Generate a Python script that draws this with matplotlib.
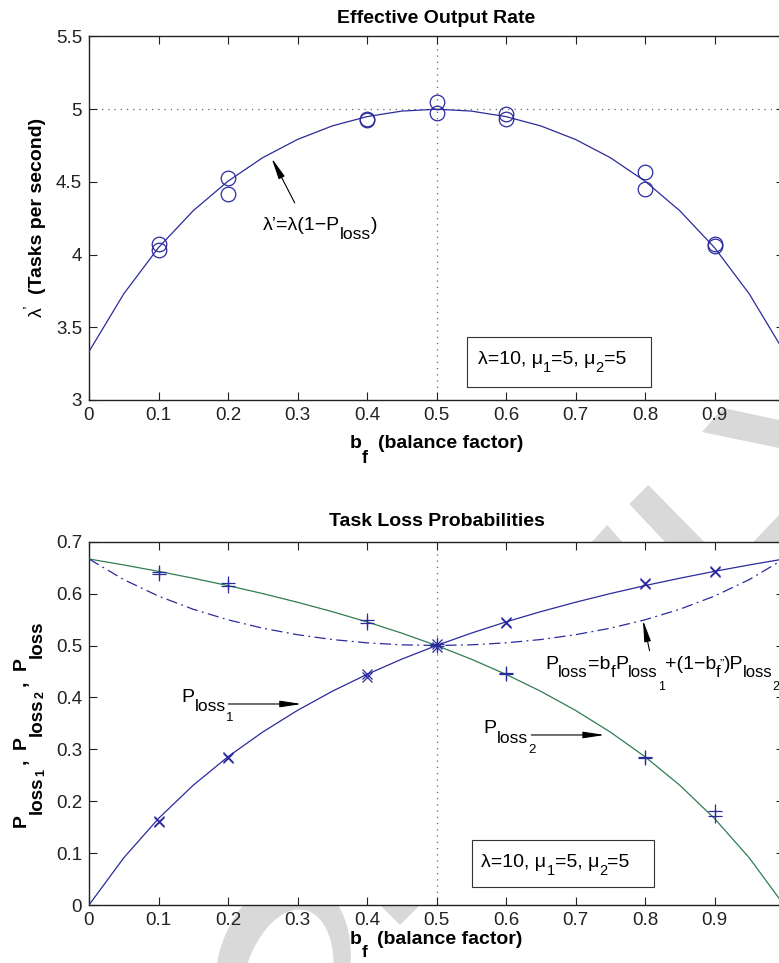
import matplotlib
matplotlib.use('Agg')
import matplotlib.pyplot as plt
from matplotlib.patches import Polygon, Ellipse, Rectangle
from matplotlib.transforms import IdentityTransform, Affine2D, offset_copy

plt.rcParams['font.family'] = ['Liberation Sans', 'DejaVu Sans']

# ---------------- data ----------------
bf_curve = [0.0, 0.05, 0.1, 0.15, 0.2, 0.25, 0.3, 0.35, 0.4, 0.45, 0.5,
            0.55, 0.6, 0.65, 0.7, 0.75, 0.8, 0.85, 0.9, 0.95, 1.0]
rate_curve = [3.333, 3.730, 4.048, 4.302, 4.505, 4.667, 4.792, 4.885, 4.949, 4.987, 5.000,
              4.987, 4.949, 4.885, 4.792, 4.667, 4.505, 4.302, 4.048, 3.730, 3.333]
ploss1_curve = [0.0, 0.0909, 0.1667, 0.2308, 0.2857, 0.3333, 0.3750, 0.4118, 0.4444, 0.4737, 0.5000,
                0.5238, 0.5455, 0.5652, 0.5833, 0.6000, 0.6154, 0.6296, 0.6429, 0.6552, 0.6667]
ploss2_curve = [0.6667, 0.6552, 0.6429, 0.6296, 0.6154, 0.6000, 0.5833, 0.5652, 0.5455, 0.5238, 0.5000,
                0.4737, 0.4444, 0.4118, 0.3750, 0.3333, 0.2857, 0.2308, 0.1667, 0.0909, 0.0]
ploss_curve = [0.6667, 0.6270, 0.5952, 0.5698, 0.5495, 0.5333, 0.5208, 0.5115, 0.5051, 0.5013, 0.5000,
               0.5013, 0.5051, 0.5115, 0.5208, 0.5333, 0.5495, 0.5698, 0.5952, 0.6270, 0.6667]

bf_sim = [0.1, 0.2, 0.4, 0.5, 0.6, 0.8, 0.9]
rate_sim_a = [4.075, 4.525, 4.930, 5.050, 4.964, 4.571, 4.075]
rate_sim_b = [4.035, 4.418, 4.925, 4.975, 4.936, 4.450, 4.060]
ploss1_sim_a = [0.161, 0.286, 0.445, 0.502, 0.546, 0.619, 0.644]
ploss1_sim_b = [0.159, 0.284, 0.440, 0.498, 0.543, 0.620, 0.641]
ploss2_sim_a = [0.641, 0.620, 0.549, 0.502, 0.447, 0.286, 0.181]
ploss2_sim_b = [0.638, 0.615, 0.543, 0.499, 0.445, 0.284, 0.171]

x_ticks = [0, 0.1, 0.2, 0.3, 0.4, 0.5, 0.6, 0.7, 0.8, 0.9, 1.0]
x_tick_labels = ['0', '0.1', '0.2', '0.3', '0.4', '0.5', '0.6', '0.7', '0.8', '0.9', '']
y1_ticks = [3, 3.5, 4, 4.5, 5, 5.5]
y1_tick_labels = ['3', '3.5', '4', '4.5', '5', '5.5']
y2_ticks = [0, 0.1, 0.2, 0.3, 0.4, 0.5, 0.6, 0.7]
y2_tick_labels = ['0', '0.1', '0.2', '0.3', '0.4', '0.5', '0.6', '0.7']

# ---------------- style ----------------
BLUE = '#2b2b9c'
GREEN = '#2f7d52'
DOT = (0, (1, 4))
ARROW = dict(arrowstyle='-|>,head_length=1.3,head_width=0.2', color='black',
             lw=0.8, shrinkA=0, shrinkB=0, mutation_scale=10)
W, H = 779, 963

fig = plt.figure(figsize=(W / 100, H / 100), dpi=100)
renderer = fig.canvas.get_renderer()
PT = 72 / fig.dpi
PX = Affine2D().scale(1, -1).translate(0, H)   # pixel coords from top-left


def _off(tr, a, dy, rotation):
    if rotation == 0:
        return offset_copy(tr, fig=fig, x=a, y=dy, units='points')
    return offset_copy(tr, fig=fig, x=-dy, y=a, units='points')


def rich(x, y, pieces, base_tr, rotation=0, align='left'):
    """pieces: (text, size, dy_points, weight) or (None, gap_points)"""
    made = []
    adv = 0.0
    for pc in pieces:
        if pc[0] is None:
            adv += pc[1]
            continue
        s, size, dy, weight = pc
        t = fig.text(x, y, s, fontsize=size, fontweight=weight, rotation=rotation,
                     rotation_mode='anchor', ha='left', va='baseline', zorder=6)
        t.set_transform(_off(base_tr, adv, dy, rotation))
        made.append((t, adv, dy))
        bb = t.get_window_extent(renderer)
        adv += (bb.width if rotation == 0 else bb.height) * PT
    shift = adv / 2 if align == 'center' else 0.0
    for t, a, dy in made:
        t.set_transform(_off(base_tr, a - shift, dy, rotation))
    return adv


# watermark pieces (figure background, behind axes)
WM = '#d9d9d9'
for pts in [
    [(702, 432), (723, 408), (779, 420), (779, 448)],
    [(591.7, 542), (607.3, 525), (622.3, 542)],
    [(629.3, 504), (648.3, 485), (704.3, 542), (665, 542)],
    [(753.3, 542), (779, 515), (779, 542)],
    [(380, 905), (420, 905), (400, 925)],
]:
    fig.patches.append(Polygon(pts, closed=True, fc=WM, ec='none', transform=PX, zorder=-5))
fig.patches.append(Ellipse((283, H - 970), 132, 186, angle=-14, fc=WM, ec='none',
                           transform=IdentityTransform(), zorder=-5))
fig.patches.append(Ellipse((287, H - 985), 88, 154, angle=-14, fc='white', ec='none',
                           transform=IdentityTransform(), zorder=-4))

ax1 = fig.add_axes([89 / W, 1 - 400 / H, 695 / W, 363.5 / H])
ax2 = fig.add_axes([89 / W, 1 - 905 / H, 695 / W, 363.3 / H])

for ax in (ax1, ax2):
    ax.set_zorder(1)
    ax.set_facecolor('white')
    ax.set_xlim(0, 1)
    ax.set_xticks(x_ticks, x_tick_labels)
    ax.tick_params(direction='in', top=True, right=True, length=6, width=0.8,
                   labelsize=13.5, pad=5, colors='#222')
    for s in ax.spines.values():
        s.set_linewidth(1.0)
        s.set_color('#222')
    ax.axvline(0.5, color='#666', ls=DOT, lw=0.9, zorder=1)

# ---------------- top plot ----------------
ax1.set_ylim(3, 5.5)
ax1.set_yticks(y1_ticks, y1_tick_labels)
ax1.axhline(5, color='#666', ls=DOT, lw=0.9, zorder=1)
ax1.plot(bf_curve, rate_curve, color=BLUE, lw=0.9, zorder=3)
for rs in (rate_sim_a, rate_sim_b):
    ax1.plot(bf_sim, rs, ls='none', marker='o', ms=10.5, mfc='none', mec=BLUE, mew=0.9, zorder=4)
ax1.set_title('Effective Output Rate', fontsize=14, fontweight='bold', pad=10)

rich(436.5, 448, [('b', 14, 0, 'bold'), ('f', 13, -11, 'bold'), (None, 7),
                  ('(balance factor)', 14, 0, 'bold')], PX, align='center')
rich(42, 217.6, [('λ', 14, 0, 'normal'), ('’', 12, 5, 'normal'), (None, 7),
                 ('(Tasks per second)', 14, 0, 'bold')], PX, rotation=90, align='center')

rich(0.250, 4.171, [('λ’=λ(1−P', 14, 0, 'normal'), ('loss', 12.5, -7, 'normal'),
                    (')', 14, 0, 'normal')], ax1.transData)
ax1.annotate('', xy=(0.2627, 4.664), xytext=(0.296, 4.356), arrowprops=ARROW)
ax1.add_patch(Rectangle((0.5445, 3.091), 0.2635, 0.341, fill=False, lw=0.8, ec='#333', zorder=5))
BOX_TEXT = [('λ=10, μ', 14, 0, 'normal'), ('1', 10.5, -6, 'normal'), ('=5, μ', 14, 0, 'normal'),
            ('2', 10.5, -6, 'normal'), ('=5', 14, 0, 'normal')]
rich(0.5597, 3.247, BOX_TEXT, ax1.transData)

# ---------------- bottom plot ----------------
ax2.set_ylim(0, 0.7)
ax2.set_yticks(y2_ticks, y2_tick_labels)
ax2.plot(bf_curve, ploss1_curve, color=BLUE, lw=0.9, zorder=3)
ax2.plot(bf_curve, ploss2_curve, color=GREEN, lw=0.9, zorder=3)
ax2.plot(bf_curve, ploss_curve, color=BLUE, lw=0.9, dashes=(9, 3.5, 1.5, 3.5), zorder=3)
for ps in (ploss1_sim_a, ploss1_sim_b):
    ax2.plot(bf_sim, ps, ls='none', marker='x', ms=7, mec=BLUE, mew=0.9, zorder=4)
for ps in (ploss2_sim_a, ploss2_sim_b):
    ax2.plot(bf_sim, ps, ls='none', marker='+', ms=10, mec=BLUE, mew=0.9, zorder=4)
ax2.set_title('Task Loss Probabilities', fontsize=14, fontweight='bold', pad=11)

rich(436.5, 944, [('b', 14, 0, 'bold'), ('f', 12.5, -9.5, 'bold'), (None, 7),
                  ('(balance factor)', 14, 0, 'bold')], PX, align='center')
rich(26, 723.4, [('P', 14, 0, 'bold'), ('loss', 13.5, -11, 'bold'), ('1', 9, -13, 'bold'),
                 (None, 4), (',', 14, 0, 'bold'), (None, 7),
                 ('P', 14, 0, 'bold'), ('loss', 13.5, -11, 'bold'), ('2', 9, -13, 'bold'),
                 (None, 4), (',', 14, 0, 'bold'), (None, 7),
                 ('P', 14, 0, 'bold'), ('loss', 13.5, -11, 'bold')],
     PX, rotation=90, align='center')

rich(0.1333, 0.3917, [('P', 14, 0, 'normal'), ('loss', 12.5, -7, 'normal'), ('1', 9.5, -14, 'normal')],
     ax2.transData)
ax2.annotate('', xy=(0.3058, 0.3873), xytext=(0.2003, 0.3873), arrowprops=ARROW)
rich(0.568, 0.3308, [('P', 14, 0, 'normal'), ('loss', 12.5, -7, 'normal'), ('2', 9.5, -14, 'normal')],
     ax2.transData)
ax2.annotate('', xy=(0.7419, 0.3276), xytext=(0.6365, 0.3276), arrowprops=ARROW)
rich(0.6566, 0.4541, [('P', 14, 0, 'normal'), ('loss', 12, -5.5, 'normal'),
                      ('=b', 14, 0, 'normal'), ('f', 12, -5.5, 'normal'),
                      ('P', 14, 0, 'normal'), ('loss', 12, -5.5, 'normal'), ('1', 9, -15, 'normal'),
                      ('+(1−b', 14, 0, 'normal'), ('f', 12, -5.5, 'normal'), (None, -1),
                      ('”', 9.5, 1.5, 'normal'), (')P', 14, 0, 'normal'),
                      ('loss', 12, -5.5, 'normal'), ('2', 9, -15, 'normal')],
     ax2.transData)
ax2.annotate('', xy=(0.797, 0.549), xytext=(0.8066, 0.49), arrowprops=ARROW)
ax2.add_patch(Rectangle((0.551, 0.0353), 0.2618, 0.0899, fill=False, lw=0.8, ec='#333', zorder=5))
rich(0.5646, 0.0738, BOX_TEXT, ax2.transData)

fig.savefig('out.png', dpi=100)
